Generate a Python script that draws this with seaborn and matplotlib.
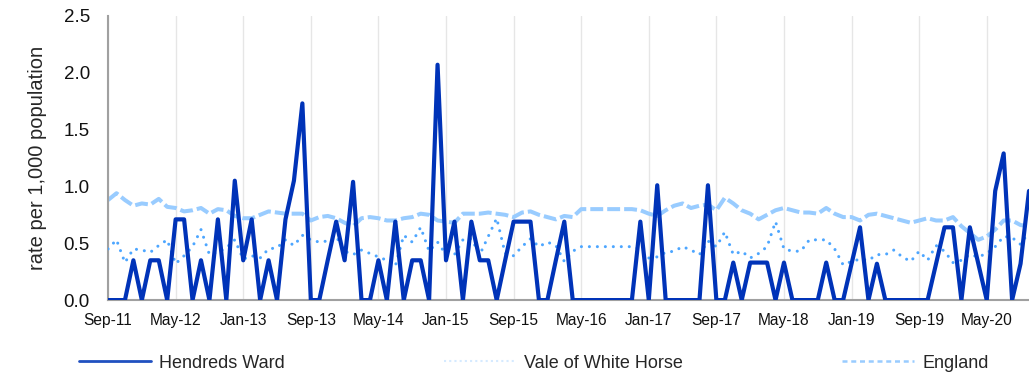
import matplotlib
matplotlib.use("Agg")
import matplotlib.pyplot as plt
from matplotlib.lines import Line2D
import numpy as np
import pandas as pd
import seaborn as sns

# Monthly rates per 1,000 population, Sep 2011 onwards
hendreds = [
    0, 0, 0, 0.35, 0, 0.35, 0.35, 0, 0.71, 0.71, 0, 0.35, 0, 0.71, 0, 1.05, 0.35,
    0.71, 0, 0.35, 0, 0.71, 1.05, 1.73, 0, 0, 0.35, 0.69, 0.35, 1.04, 0, 0, 0.35, 0,
    0.69, 0, 0.35, 0.35, 0, 2.07, 0.35, 0.69, 0, 0.69, 0.35, 0.35, 0, 0.35, 0.69,
    0.69, 0.69, 0, 0, 0.35, 0.69, 0, 0, 0, 0, 0, 0, 0, 0, 0.69, 0, 1.01, 0, 0, 0, 0,
    0, 1.01,
    0, 0, 0.33, 0, 0.33, 0.33, 0.33, 0, 0.33, 0, 0, 0, 0, 0.33, 0, 0, 0.32, 0.64, 0,
    0.32, 0, 0, 0, 0, 0, 0, 0.32, 0.64, 0.64, 0, 0.64, 0.32, 0, 0.96, 1.29, 0, 0.32,
    0.96,
]
vale = [
    0.45, 0.53, 0.33, 0.45, 0.44, 0.42, 0.48, 0.53, 0.32, 0.39, 0.47, 0.62, 0.40,
    0.42, 0.46, 0.53, 0.36, 0.39, 0.37, 0.45, 0.46, 0.53, 0.48, 0.57, 0.53, 0.51,
    0.52, 0.56, 0.43, 0.40, 0.44, 0.41, 0.38, 0.35,
    0.30, 0.57, 0.51, 0.64, 0.43, 0.51, 0.40, 0.40, 0.53, 0.54, 0.40, 0.56, 0.72,
    0.41, 0.39, 0.47, 0.54, 0.47, 0.51, 0.48, 0.34, 0.43, 0.47, 0.47, 0.47, 0.47,
    0.47, 0.47, 0.47, 0.45, 0.37, 0.38, 0.42, 0.43, 0.47, 0.44, 0.40, 0.52,
    0.47, 0.60, 0.40, 0.43, 0.37, 0.41, 0.47, 0.69, 0.45, 0.43, 0.43, 0.53, 0.53,
    0.53, 0.45, 0.31, 0.34, 0.36, 0.35, 0.40, 0.40, 0.44, 0.38, 0.34, 0.43, 0.35,
    0.48, 0.43, 0.33, 0.35, 0.40, 0.38, 0.41, 0.47, 0.56, 0.55, 0.49, 0.60,
]
england = [
    0.88, 0.94, 0.88, 0.83, 0.85, 0.84, 0.89, 0.82, 0.81, 0.78, 0.79, 0.81, 0.76,
    0.80, 0.79, 0.74, 0.72, 0.72, 0.75, 0.78, 0.77, 0.76, 0.76, 0.76, 0.70, 0.73,
    0.74, 0.72, 0.68, 0.65, 0.72, 0.73, 0.72, 0.70,
    0.70, 0.72, 0.73, 0.76, 0.75, 0.70, 0.69, 0.68, 0.76, 0.76, 0.76, 0.77, 0.76,
    0.75, 0.73, 0.77, 0.78, 0.75, 0.73, 0.71, 0.74, 0.73, 0.80, 0.80, 0.80, 0.80,
    0.80, 0.80, 0.80, 0.79, 0.76, 0.74, 0.79, 0.83, 0.85, 0.81, 0.83, 0.84,
    0.79, 0.90, 0.85, 0.79, 0.76, 0.71, 0.75, 0.79, 0.81, 0.79, 0.77, 0.77, 0.76,
    0.81, 0.76, 0.73, 0.73, 0.70, 0.75, 0.76, 0.74, 0.72, 0.70, 0.68, 0.70, 0.72,
    0.70, 0.70, 0.73, 0.65, 0.59, 0.53, 0.56, 0.62, 0.70, 0.70, 0.66, 0.65,
]
series_names = ["Hendreds Ward", "Vale of White Horse", "England"]

months = pd.date_range("2011-09-01", periods=len(hendreds), freq="MS")
month_labels = [d.strftime("%b-%y") for d in months]
tick_step = 8

df = pd.DataFrame({
    "idx": np.arange(len(months)),
    "Hendreds Ward": hendreds,
    "Vale of White Horse": vale,
    "England": england,
})

sns.set_style("white")
plt.rcParams["font.family"] = ["Liberation Sans", "DejaVu Sans"]

fig = plt.figure(figsize=(10.29, 3.77), dpi=100)
ax = fig.add_axes([0.105, 0.204, 0.895, 0.754])

c_ward = "#0033b8"
c_vale = "#4da6ff"
c_eng = "#99ccff"

sns.lineplot(data=df, x="idx", y="England", ax=ax, color=c_eng, lw=2.9,
             zorder=2)
ax.lines[-1].set_dashes((3.2, 1.0))
sns.lineplot(data=df, x="idx", y="Vale of White Horse", ax=ax, color=c_vale,
             lw=2.2, zorder=3)
ax.lines[-1].set_linestyle((0, (0.01, 2.6)))
ax.lines[-1].set_dash_capstyle("round")
sns.lineplot(data=df, x="idx", y="Hendreds Ward", ax=ax, color=c_ward, lw=3.0,
             zorder=4)

ax.set_xlim(0, len(months) - 1)
ax.set_ylim(0, 2.5)
ticks = list(range(0, len(months), tick_step))
ax.set_xticks(ticks)
ax.set_xticklabels([month_labels[i] for i in ticks], fontsize=11.2)
yvals = np.arange(0, 2.51, 0.5)
ax.set_yticks(yvals)
ax.set_yticklabels([f"{v:.1f}" for v in yvals], fontsize=13.5)
ax.set_xlabel("")
ax.set_ylabel("rate per 1,000 population", fontsize=14.5, labelpad=12)

ax.grid(axis="x", color="#e6e6e6", lw=1.0, zorder=0)
ax.grid(axis="y", visible=False)
for side in ("top", "right"):
    ax.spines[side].set_visible(False)
for side in ("left", "bottom"):
    ax.spines[side].set_color("#a0a0a0")
    ax.spines[side].set_linewidth(1.5)
ax.tick_params(axis="x", direction="out", length=4, width=1.2, color="#a0a0a0",
               pad=5, labelcolor="#111111")
ax.tick_params(axis="y", direction="out", length=4, width=1.2, color="#a0a0a0",
               pad=9, labelcolor="#111111")

handles = [
    Line2D([], [], color="#2050c0", lw=2.0),
    Line2D([], [], color="#d5eaff", lw=1.5, linestyle=(0, (1, 1.5))),
    Line2D([], [], color="#99ccff", lw=1.8, linestyle=(0, (2, 1.5))),
]
fig.legend(handles, series_names, loc="center", bbox_to_anchor=(0.519, 0.037),
           ncol=3, frameon=False, fontsize=13, handlelength=4.0,
           handletextpad=0.45, columnspacing=8.8)

fig.savefig("out.png", dpi=100)
